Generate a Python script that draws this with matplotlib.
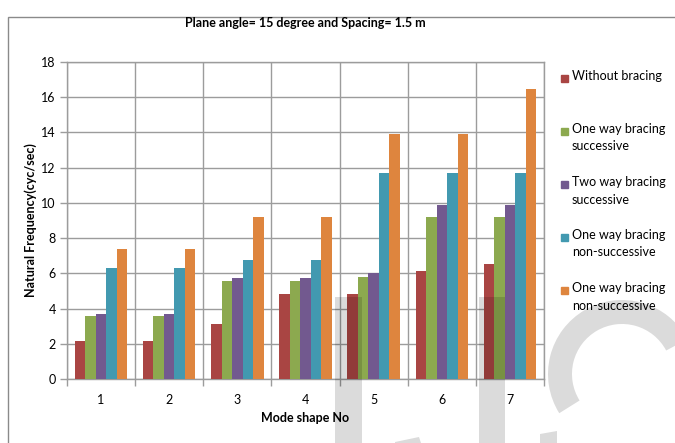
import matplotlib
matplotlib.use("Agg")
import matplotlib.pyplot as plt
import matplotlib.patches as mpatches
from matplotlib.transforms import IdentityTransform
import numpy as np

plt.rcParams['font.family'] = ['Lato', 'DejaVu Sans']

modes = ["1", "2", "3", "4", "5", "6", "7"]
series_names = ["Without bracing",
                "One way bracing\nsuccessive",
                "Two way bracing\nsuccessive",
                "One way bracing\nnon-successive",
                "One way bracing\nnon-successive"]
without_bracing = [2.16, 2.16, 3.13, 4.83, 4.83, 6.15, 6.52]
one_way_succ = [3.56, 3.56, 5.57, 5.57, 5.80, 9.22, 9.22]
two_way_succ = [3.71, 3.71, 5.74, 5.74, 6.02, 9.86, 9.86]
one_way_nonsucc = [6.33, 6.33, 6.78, 6.78, 11.70, 11.70, 11.70]
one_way_nonsucc_2 = [7.37, 7.37, 9.22, 9.22, 13.90, 13.90, 16.49]

colors = ["#A94543", "#8CA94F", "#72598F", "#4299B0", "#DE853E"]
grid_c = "#9C9C9C"

fig = plt.figure(figsize=(6.75, 4.43), dpi=100)
ax = fig.add_axes([67/675, 1-379/443, 477/675, 317/443])

x = np.arange(len(modes))
w = 1/6.5
for i, vals in enumerate([without_bracing, one_way_succ, two_way_succ,
                          one_way_nonsucc, one_way_nonsucc_2]):
    ax.bar(x + (i-2)*w, vals, width=w, color=colors[i], linewidth=0, zorder=3)

ax.set_xlim(-0.5, 6.5)
ax.set_ylim(0, 18)
ax.set_yticks(np.arange(0, 19, 2))
ax.set_xticks(x)
ax.set_xticklabels(modes)
ax.set_xticks(np.arange(-0.5, 7, 1), minor=True)
ax.tick_params(axis="x", which="major", length=0, pad=11, labelsize=9)
ax.tick_params(axis="x", which="minor", length=5, color=grid_c, width=1)
ax.tick_params(axis="y", length=5, color=grid_c, width=1, pad=3, labelsize=9)
ax.grid(axis="y", color=grid_c, linewidth=1, zorder=0)
ax.grid(axis="x", which="minor", color=grid_c, linewidth=1, zorder=0)
for s in ax.spines.values():
    s.set_color(grid_c)
    s.set_linewidth(1)

ax.set_xlabel("Mode shape No", fontweight="bold", fontsize=9, labelpad=4)
ax.set_ylabel("Natural Frequency(cyc/sec)", fontweight="bold", fontsize=9, labelpad=3)
fig.text(305/675, 1-23/443, "Plane angle= 15 degree and Spacing= 1.5 m",
         fontweight="bold", fontsize=9, ha="center", va="center")

# legend drawn by hand so the swatch sits on the first text line
for i, name in enumerate(series_names):
    ytop = 78 + i*53
    fig.patches.append(mpatches.Rectangle((561/675, 1-(ytop+4)/443), 7/675, 7/443,
                                          transform=fig.transFigure, color=colors[i]))
    fig.text(572/675, 1-(ytop-8)/443, name, fontsize=9, va="top", ha="left",
             linespacing=1.55)

# outer chart frame
fig.patches.append(mpatches.Rectangle((8/675, -0.1), 1.0, (443-17)/443+0.1,
                                      transform=fig.transFigure, fill=False,
                                      edgecolor="#8A8A8A", linewidth=1))

# faint watermark glyphs
wm = (0, 0, 0, 0.14)
H = 443
for x0, x1 in [(335, 362), (479, 505)]:
    fig.add_artist(mpatches.Rectangle((x0, 0), x1-x0, H-297, transform=IdentityTransform(),
                                      facecolor=wm, edgecolor="none"))
fig.add_artist(mpatches.Polygon([(395, H-442), (419, H-437), (421, 0), (395, 0)],
                                transform=IdentityTransform(), facecolor=wm, edgecolor="none"))
fig.add_artist(mpatches.Polygon([(540, H-434), (557, H-431), (557, 0), (540, 0)],
                                transform=IdentityTransform(), facecolor=wm, edgecolor="none"))
fig.add_artist(mpatches.Wedge((622, H-374), 74, 28, 212, width=24,
                              transform=IdentityTransform(), facecolor=wm, edgecolor="none"))

fig.savefig("out.png", dpi=100)
